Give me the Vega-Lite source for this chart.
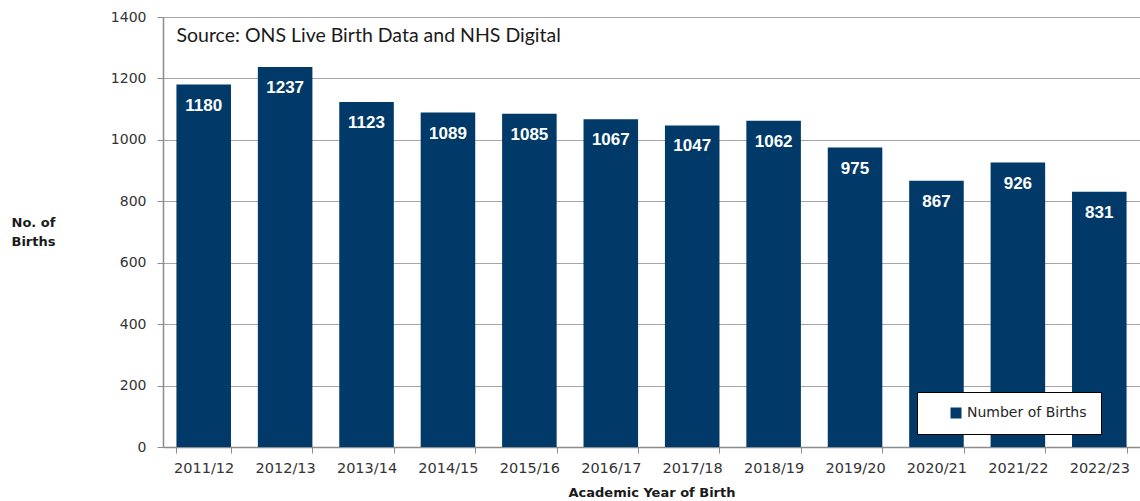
{
  "$schema": "https://vega.github.io/schema/vega-lite/v6.json",
  "autosize": {"type": "none"},
  "width": 977,
  "height": 430,
  "padding": {"left": 163, "top": 17, "right": 0, "bottom": 54},
  "background": "white",
  "config": {"view": {"stroke": null}},
  "layer": [
    {
      "data": {"values": [
        {"year": "2011/12", "births": 1180, "series": "Number of Births"},
        {"year": "2012/13", "births": 1237, "series": "Number of Births"},
        {"year": "2013/14", "births": 1123, "series": "Number of Births"},
        {"year": "2014/15", "births": 1089, "series": "Number of Births"},
        {"year": "2015/16", "births": 1085, "series": "Number of Births"},
        {"year": "2016/17", "births": 1067, "series": "Number of Births"},
        {"year": "2017/18", "births": 1047, "series": "Number of Births"},
        {"year": "2018/19", "births": 1062, "series": "Number of Births"},
        {"year": "2019/20", "births": 975, "series": "Number of Births"},
        {"year": "2020/21", "births": 867, "series": "Number of Births"},
        {"year": "2021/22", "births": 926, "series": "Number of Births"},
        {"year": "2022/23", "births": 831, "series": "Number of Births"}
      ]},
      "encoding": {
        "x": {
          "field": "year", "type": "ordinal", "sort": null,
          "scale": {"paddingInner": 0.33, "paddingOuter": 0.165},
          "axis": {
            "title": "Academic Year of Birth",
            "titleFont": "DejaVu Sans", "titleFontSize": 13, "titleFontWeight": "bold", "titleColor": "#1a1a1a",
            "titleY": 45, "titleBaseline": "middle",
            "labelFont": "DejaVu Sans", "labelFontSize": 14.5, "labelColor": "#333333", "labelAngle": 0,
            "labelPadding": 8, "tickBand": "extent", "tickSize": 6, "tickColor": "#8c8c8c",
            "domainColor": "#8c8c8c", "domainWidth": 1.5, "grid": false
          }
        },
        "y": {
          "field": "births", "type": "quantitative",
          "scale": {"domain": [0, 1400], "nice": false},
          "axis": {
            "values": [0, 200, 400, 600, 800, 1000, 1200, 1400],
            "format": "d",
            "title": ["No. of", "Births"],
            "titleAngle": 0, "titleAlign": "left", "titleBaseline": "top",
            "titleX": -152, "titleY": 199, "titleLineHeight": 19,
            "titleFont": "DejaVu Sans", "titleFontSize": 13, "titleFontWeight": "bold", "titleColor": "#1a1a1a",
            "labelFont": "DejaVu Sans", "labelFontSize": 14, "labelColor": "#333333",
            "labelPadding": 11, "tickSize": 6, "tickColor": "#8c8c8c",
            "domainColor": "#8c8c8c", "domainWidth": 1.5,
            "grid": true, "gridColor": "#a6a6a6", "gridWidth": 1
          }
        }
      },
      "layer": [
        {
          "mark": {"type": "bar"},
          "encoding": {
            "color": {
              "field": "series", "type": "nominal",
              "scale": {"range": ["#013A69"]},
              "legend": {
                "title": null, "orient": "none", "legendX": 754, "legendY": 375,
                "fillColor": "white", "strokeColor": "#000000", "padding": 14,
                "symbolType": "square", "symbolSize": 121, "symbolOffset": 18,
                "labelFont": "DejaVu Sans", "labelFontSize": 14, "labelColor": "#262626",
                "labelOffset": 4, "labelExpr": "datum.label + '\u00a0\u00a0'"
              }
            }
          }
        },
        {
          "mark": {"type": "text", "baseline": "middle", "dy": 21, "font": "Liberation Sans", "fontSize": 17, "fontWeight": "bold", "color": "white"},
          "encoding": {"text": {"field": "births", "type": "quantitative"}}
        }
      ]
    },
    {
      "data": {"values": [{"note": "Source: ONS Live Birth Data and NHS Digital"}]},
      "mark": {"type": "text", "align": "left", "baseline": "middle", "dx": 0, "font": "Lato", "fontSize": 19.5, "color": "#1a1a1a"},
      "encoding": {
        "x": {"datum": "2011/12", "type": "ordinal", "bandPosition": 0},
        "y": {"datum": 1338, "type": "quantitative"},
        "text": {"field": "note", "type": "nominal"}
      }
    }
  ]
}
